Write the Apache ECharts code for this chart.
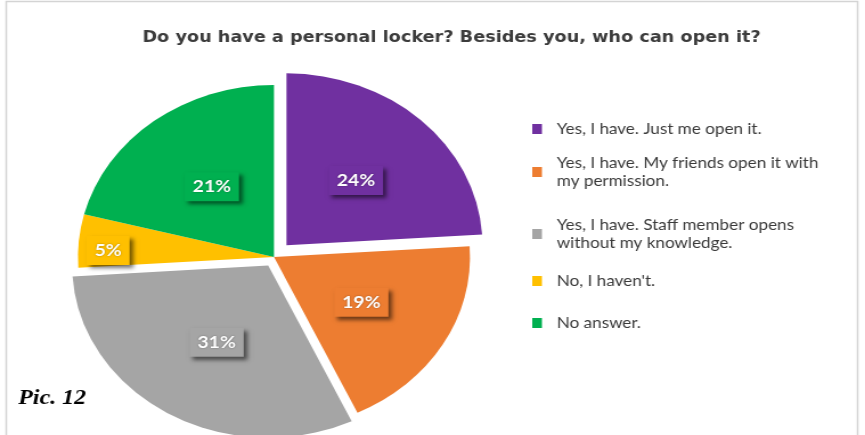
<!DOCTYPE html>
<html>
<head>
<meta charset="utf-8">
<script src="https://cdn.jsdelivr.net/npm/echarts@6/dist/echarts.min.js"></script>
<style>
  html, body { margin: 0; padding: 0; background: #fff; overflow: hidden; }
  #wrap { width: 865px; height: 435px; overflow: hidden; }
  /* the figure is drawn on a narrower canvas and widened horizontally */
  #chart { width: 759px; height: 435px; transform: scaleX(1.1397); transform-origin: 0 0; }
</style>
</head>
<body>
<div id="wrap"><div id="chart"></div></div>
<script>
// Survey answers and their shares (percent)
const categories = [
  'Yes, I have. Just me open it.',
  'Yes, I have. My friends open it with my permission.',
  'Yes, I have. Staff member opens without my knowledge.',
  "No, I haven't.",
  'No answer.'
];
const shares = [24, 19, 31, 5, 21];
const legendLines = [
  'Yes, I have. Just me open it.',
  'Yes, I have. My friends open it with\nmy permission.',
  'Yes, I have. Staff member opens\nwithout my knowledge.',
  "No, I haven't.",
  'No answer.'
];
const titleText = 'Do you have a personal locker? Besides you, who can open it?';
const captionText = 'Pic. 12';

// Styling
const colors = ['#7030A0', '#ED7D31', '#A5A5A5', '#FFC000', '#00B050'];
const pullOut = [16, 0, 10, 0, 0];          // how far each slice is pulled from the centre
const legendTops = [120, 154, 216, 272, 314];
const centre = [240.4, 257];
const radius = 172;
const font = 'Lato, "Open Sans", sans-serif';

const chart = echarts.init(document.getElementById('chart'), null, { renderer: 'canvas' });

const total = shares.reduce((a, b) => a + b, 0);
let acc = 0;
const series = shares.map((v, i) => {
  const mid = (acc + v / 2) / total * Math.PI * 2;
  acc += v;
  const cx = centre[0] + pullOut[i] * Math.sin(mid);
  const cy = centre[1] - pullOut[i] * Math.cos(mid);
  return {
    type: 'pie',
    name: categories[i],
    center: [cx, cy],
    radius: radius,
    startAngle: 90,
    clockwise: true,
    silent: true,
    animation: false,
    avoidLabelOverlap: false,
    labelLine: { show: false },
    emphasis: { disabled: true },
    data: shares.map((s, j) => ({
      name: categories[j],
      value: s,
      itemStyle: { color: j === i ? colors[j] : 'rgba(0,0,0,0)' },
      label: j === i ? {
        show: true,
        position: 'inside',
        formatter: s + '%',
        color: '#fff',
        fontFamily: font,
        fontWeight: 'bold',
        fontSize: 17,
        lineHeight: 17,
        backgroundColor: colors[j],
        padding: [6, 7],
        shadowColor: 'rgba(0,0,0,0.55)',
        shadowBlur: 4,
        shadowOffsetX: 3,
        shadowOffsetY: 3,
        textShadowColor: 'rgba(0,0,0,0.35)',
        textShadowBlur: 2,
        offset: j === 3 ? [-57, 2] : [0, 0]
      } : { show: false }
    }))
  };
});

const legends = categories.map((name, i) => ({
  orient: 'vertical',
  left: 467,
  top: legendTops[i],
  padding: 0,
  itemWidth: 8.5,
  itemHeight: 10,
  icon: 'rect',
  selectedMode: false,
  data: [{ name: name, itemStyle: { color: colors[i] } }],
  formatter: () => legendLines[i],
  textStyle: {
    fontFamily: font,
    fontSize: 15,
    lineHeight: 18,
    color: '#3a3a3a',
    padding: [0, 0, 0, 8]
  }
}));

chart.setOption({
  backgroundColor: '#fff',
  animation: false,
  title: {
    text: titleText,
    left: 125,
    top: 30,
    padding: 0,
    textStyle: { fontFamily: '"DejaVu Sans", sans-serif', fontWeight: 'bold', fontSize: 15.5, color: '#3c3c3c' }
  },
  legend: legends,
  graphic: [
    {
      type: 'rect',
      silent: true,
      shape: { x: 5.5, y: 1.5, width: 747, height: 440 },
      style: { fill: 'none', stroke: '#d4d4d4', lineWidth: 1.5 }
    },
    {
      type: 'text',
      left: 16,
      top: 388,
      style: {
        text: captionText,
        font: 'italic bold 21px "Liberation Serif", "DejaVu Serif", serif',
        fill: '#000'
      }
    }
  ],
  series: series
});
</script>
</body>
</html>
